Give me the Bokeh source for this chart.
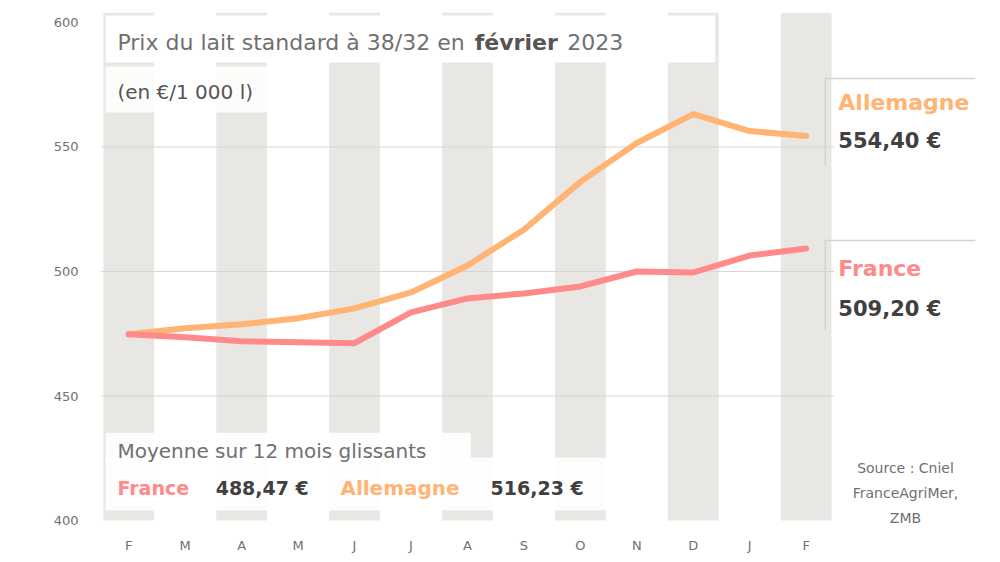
from bokeh.plotting import figure
from bokeh.models import Label, BoxAnnotation, FixedTicker, ColumnDataSource
from bokeh.embed import file_html
from bokeh.resources import INLINE
import numpy as np

months = ["F", "M", "A", "M", "J", "J", "A", "S", "O", "N", "D", "J", "F"]
france = [474.8, 473.6, 472.0, 471.6, 471.2, 483.6, 489.2, 491.2, 494.0, 500.0, 499.6, 506.4, 509.2]
allemagne = [474.8, 477.2, 478.8, 481.2, 485.2, 491.6, 502.4, 516.8, 536.0, 551.6, 563.2, 556.4, 554.4]
y_ticks = [400, 450, 500, 550, 600]
grid_vals = [450, 500, 550]

FONT = "DejaVu Sans"
RED = "#ff8a8a"
ORANGE = "#ffb473"
DARK = "#404040"
GREY = "#707070"
BAND = "#e9e7e4"
Y0, Y1 = 400, 604

def eur(v):
    return f"{v:.2f}".replace(".", ",") + " €"

x = list(range(len(months)))
p = figure(width=995, height=558, output_backend="svg", toolbar_location=None,
           x_range=(-0.5, 15.0), y_range=(395.2, Y1),
           min_border_left=100, min_border_right=20, min_border_top=12, min_border_bottom=26)
p.outline_line_color = None
p.xgrid.visible = False
p.ygrid.visible = False
p.background_fill_color = "white"

# alternating bands
band_x = x[::2]
p.vbar(x=band_x, width=0.9, bottom=Y0, top=Y1, color=BAND, line_color=None)

# grid lines
p.segment(x0=[-0.5] * len(grid_vals), x1=[12.5] * len(grid_vals), y0=grid_vals, y1=grid_vals,
          line_color="#d6d6d6", line_width=1)

src = ColumnDataSource(dict(x=x, fr=france, de=allemagne))
p.line("x", "de", source=src, line_color=ORANGE, line_width=6, line_join="round", line_cap="round")
p.line("x", "fr", source=src, line_color=RED, line_width=6, line_join="round", line_cap="round")

# axes
p.xaxis.ticker = FixedTicker(ticks=x)
p.xaxis.major_label_overrides = {i: m for i, m in enumerate(months)}
p.yaxis.ticker = FixedTicker(ticks=y_ticks)
for ax in (p.xaxis, p.yaxis):
    ax.axis_line_color = None
    ax.major_tick_line_color = None
    ax.minor_tick_line_color = None
    ax.major_tick_out = 0
    ax.major_tick_in = 0
    ax.major_label_text_font = FONT
    ax.major_label_text_color = GREY
    ax.major_label_text_font_size = "13px"
p.xaxis.major_label_standoff = 5
p.yaxis.major_label_standoff = 22

def box(l, r, t, b, alpha=0.92):
    p.add_layout(BoxAnnotation(left=l, right=r, top=t, bottom=b, fill_color="white",
                               fill_alpha=alpha, line_color=None))

def lab(xv, yv, text, size, color, bold=False, align="left"):
    p.add_layout(Label(x=xv, y=yv, text=text, text_font=FONT, text_font_size=size,
                       text_color=color, text_font_style="bold" if bold else "normal",
                       text_baseline="middle", text_align=align))

# title boxes
box(-0.41, 10.39, 602.8, 583.9, 1.0)
lab(-0.2, 592, "Prix du lait standard à 38/32 en", "22px", GREY)
lab(6.13, 592, "février", "22px", "#555555", bold=True)
lab(7.77, 592, "2023", "22px", GREY)
box(-0.41, 2.6, 582.3, 563.8, 0.85)
lab(-0.2, 571.9, "(en €/1 000 l)", "20px", "#555555")

# legend boxes
box(-0.41, 6.06, 435.3, 423.3)
box(-0.41, 8.5, 425.3, 404.0)
lab(-0.2, 428.1, "Moyenne sur 12 mois glissants", "20px", GREY)
lab(-0.2, 413.2, "France", "19px", RED, bold=True)
lab(1.54, 413.2, eur(np.mean(france[1:])), "19px", DARK, bold=True)
lab(3.75, 413.2, "Allemagne", "20px", ORANGE, bold=True)
lab(6.41, 413.2, eur(np.mean(allemagne[1:])), "19px", DARK, bold=True)

# right-side end labels with bracket lines
p.multi_line(xs=[[15.0, 12.34, 12.34], [15.0, 12.34, 12.34]],
             ys=[[577.5, 577.5, 542.6], [512.4, 512.4, 476.3]],
             line_color="#d3d3d3", line_width=1.5)
lab(12.57, 567.9, "Allemagne", "22px", ORANGE, bold=True)
lab(12.57, 552.6, eur(allemagne[-1]), "21px", DARK, bold=True)
lab(12.57, 501.2, "France", "22px", RED, bold=True)
lab(12.57, 485.1, eur(france[-1]), "21px", DARK, bold=True)

# source
lab(13.76, 420.9, "Source : Cniel", "14px", GREY, align="center")
lab(13.76, 411.2, "FranceAgriMer,", "14px", GREY, align="center")
lab(13.76, 401.0, "ZMB", "14px", GREY, align="center")

open("out.html", "w").write(file_html(p, INLINE))
